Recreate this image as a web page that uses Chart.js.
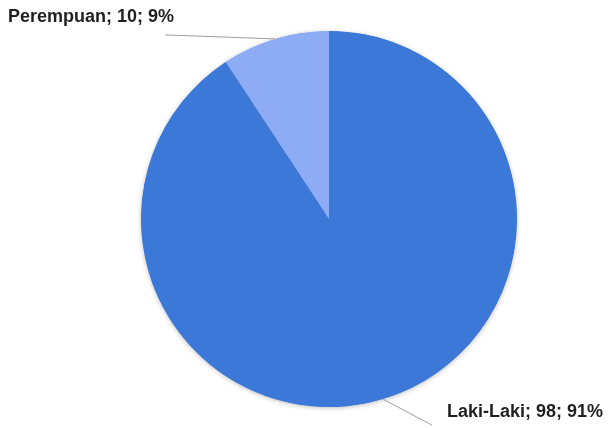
<!DOCTYPE html>
<html>
<head>
<meta charset="utf-8">
<script src="https://cdn.jsdelivr.net/npm/chart.js@4"></script>
<style>
  html, body { margin: 0; padding: 0; background: #fff; }
  #wrap { width: 610px; height: 428px; }
</style>
</head>
<body>
<div id="wrap"><canvas id="pieChart" width="610" height="428"></canvas></div>
<script>
var kategori = ['Laki-Laki', 'Perempuan'];
var jumlah = [98, 10];
var persen = ['91%', '9%'];
var warna = ['#3c78d8', '#8eabf6'];

// posisi ujung garis label (relatif ke titik tengah busur) dan teksnya
var labelPos = [
    { dx: 49, dy: 26, tx: 447, ty: 417 },
    { dx: -110, dy: -4, tx: 8, ty: 22 }
];

var labelPlugin = {
    id: 'labelLuar',
    beforeDatasetsDraw: function(chart) {
        // bayangan tipis di belakang pie
        var ctx = chart.ctx;
        var arc = chart.getDatasetMeta(0).data[0];
        if (!arc) return;
        ctx.save();
        ctx.shadowColor = 'rgba(0,0,0,0.3)';
        ctx.shadowBlur = 5;
        ctx.shadowOffsetY = 1;
        ctx.fillStyle = warna[0];
        ctx.beginPath();
        ctx.arc(arc.x, arc.y, arc.outerRadius - 0.5, 0, Math.PI * 2);
        ctx.fill();
        ctx.restore();
    },
    afterDatasetsDraw: function(chart) {
        var ctx = chart.ctx;
        var meta = chart.getDatasetMeta(0);
        ctx.save();
        meta.data.forEach(function(arc, i) {
            var mid = (arc.startAngle + arc.endAngle) / 2;
            var x0 = arc.x + Math.cos(mid) * arc.outerRadius;
            var y0 = arc.y + Math.sin(mid) * arc.outerRadius;
            var p = labelPos[i];
            ctx.strokeStyle = '#9e9e9e';
            ctx.lineWidth = 1;
            ctx.beginPath();
            ctx.moveTo(x0, y0);
            ctx.lineTo(x0 + p.dx, y0 + p.dy);
            ctx.stroke();
            ctx.fillStyle = '#1f1f1f';
            ctx.font = 'bold 18px "Liberation Sans", Arial, sans-serif';
            ctx.textBaseline = 'alphabetic';
            ctx.textAlign = 'left';
            ctx.fillText(kategori[i] + '; ' + jumlah[i] + '; ' + persen[i], p.tx, p.ty);
        });
        ctx.restore();
    }
};

var ctx = document.getElementById('pieChart').getContext('2d');
var myChart = new Chart(ctx, {
    type: 'pie',
    data: {
        labels: kategori,
        datasets: [{
            data: jumlah,
            backgroundColor: warna,
            borderWidth: 0
        }]
    },
    options: {
        responsive: false,
        animation: false,
        layout: {
            padding: { left: 48, right: 0, top: 31, bottom: 21 }
        },
        plugins: {
            legend: { display: false },
            tooltip: { enabled: false }
        }
    },
    plugins: [labelPlugin]
});
</script>
</body>
</html>
